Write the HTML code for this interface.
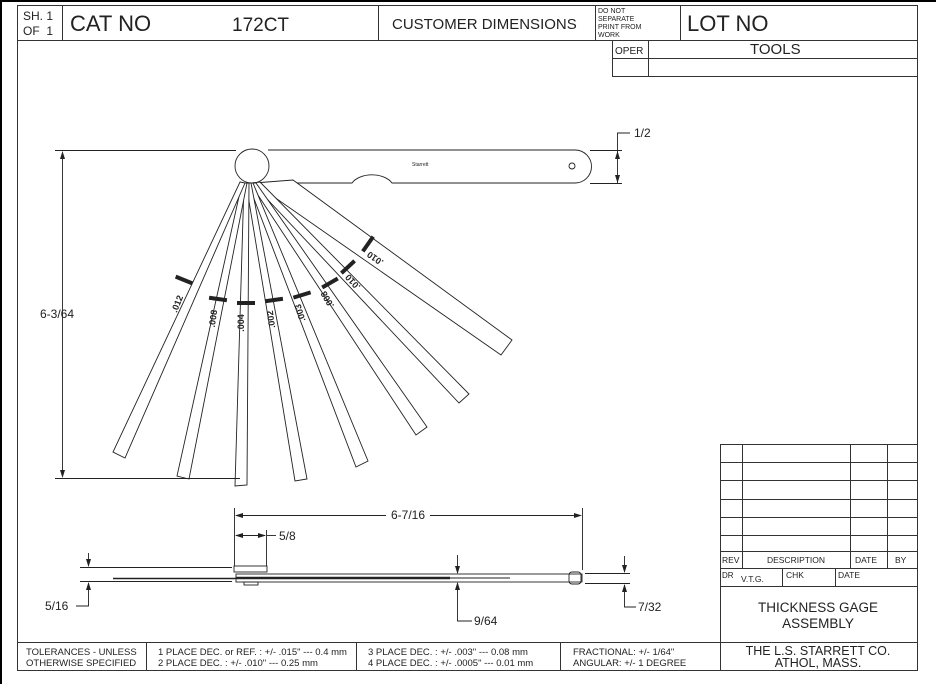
<!DOCTYPE html>
<html><head><meta charset="utf-8"><style>
html,body{margin:0;padding:0;background:#fff;}
svg{display:block;font-family:"Liberation Sans",sans-serif;}
</style></head><body>
<svg width="936" height="684" viewBox="0 0 936 684" xmlns="http://www.w3.org/2000/svg">
<rect x="0" y="0" width="936" height="684" fill="#fff"/>
<line x1="1" y1="0" x2="1" y2="684" stroke="#000" stroke-width="2"/>
<line x1="0" y1="1" x2="936" y2="1" stroke="#000" stroke-width="2"/>
<g stroke="#333" stroke-width="1" fill="none">
<rect x="17.5" y="5.5" width="900" height="665"/>
<line x1="17" y1="40.5" x2="918" y2="40.5"/>
<line x1="62.5" y1="5" x2="62.5" y2="40"/>
<line x1="378.5" y1="5" x2="378.5" y2="40"/>
<line x1="595.5" y1="5" x2="595.5" y2="40"/>
<line x1="680.5" y1="5" x2="680.5" y2="40"/>
<line x1="612.5" y1="40" x2="612.5" y2="76"/>
<line x1="648.5" y1="40" x2="648.5" y2="76"/>
<line x1="612" y1="58.5" x2="918" y2="58.5"/>
<line x1="612" y1="76.5" x2="918" y2="76.5"/>
<!-- bottom row -->
<line x1="17" y1="642.5" x2="918" y2="642.5"/>
<line x1="146.5" y1="642" x2="146.5" y2="670"/>
<line x1="356.5" y1="642" x2="356.5" y2="670"/>
<line x1="560.5" y1="642" x2="560.5" y2="670"/>
<!-- right block -->
<line x1="720.5" y1="444" x2="720.5" y2="670"/>
<line x1="720" y1="444.5" x2="918" y2="444.5"/>
<line x1="720" y1="462.5" x2="918" y2="462.5"/>
<line x1="720" y1="480.5" x2="918" y2="480.5"/>
<line x1="720" y1="499.5" x2="918" y2="499.5"/>
<line x1="720" y1="517.5" x2="918" y2="517.5"/>
<line x1="720" y1="535.5" x2="918" y2="535.5"/>
<line x1="720" y1="551.5" x2="918" y2="551.5"/>
<line x1="720" y1="568.5" x2="918" y2="568.5"/>
<line x1="720" y1="586.5" x2="918" y2="586.5"/>
<line x1="742.5" y1="444" x2="742.5" y2="568"/>
<line x1="850.5" y1="444" x2="850.5" y2="568"/>
<line x1="887.5" y1="444" x2="887.5" y2="568"/>
<line x1="782.5" y1="568" x2="782.5" y2="586"/>
<line x1="835.5" y1="568" x2="835.5" y2="586"/>
</g>
<g fill="#222">
<text x="23" y="20" font-size="12">SH. 1</text>
<text x="23" y="35" font-size="12">OF&#160; 1</text>
<text x="70" y="31" font-size="22">CAT NO</text>
<text x="232" y="31" font-size="19">172CT</text>
<text x="392" y="29" font-size="15">CUSTOMER DIMENSIONS</text>
<text x="598" y="13" font-size="7">DO NOT</text>
<text x="598" y="21" font-size="7">SEPARATE</text>
<text x="598" y="29" font-size="7">PRINT FROM</text>
<text x="598" y="37" font-size="7">WORK</text>
<text x="687" y="31" font-size="22">LOT NO</text>
<text x="615" y="54" font-size="10">OPER</text>
<text x="750" y="54" font-size="15">TOOLS</text>
<text x="26" y="655" font-size="9.5">TOLERANCES - UNLESS</text>
<text x="26" y="666" font-size="9.5">OTHERWISE SPECIFIED</text>
<text x="158" y="655" font-size="9.5">1 PLACE DEC. or REF. :  +/- .015" --- 0.4 mm</text>
<text x="158" y="666" font-size="9.5">2 PLACE DEC. :  +/- .010" --- 0.25 mm</text>
<text x="368" y="655" font-size="9.5">3 PLACE DEC. :  +/- .003" --- 0.08 mm</text>
<text x="368" y="666" font-size="9.5">4 PLACE DEC. :  +/- .0005" --- 0.01 mm</text>
<text x="573" y="655" font-size="9.5">FRACTIONAL: +/- 1/64"</text>
<text x="573" y="666" font-size="9.5">ANGULAR:  +/- 1 DEGREE</text>
<text x="818" y="655" font-size="12.5" text-anchor="middle">THE L.S. STARRETT CO.</text>
<text x="818" y="667" font-size="12.5" text-anchor="middle">ATHOL, MASS.</text>
<text x="722" y="563" font-size="8.5">REV</text>
<text x="796" y="563" font-size="8.5" text-anchor="middle">DESCRIPTION</text>
<text x="855" y="563" font-size="8.5">DATE</text>
<text x="895" y="563" font-size="8.5">BY</text>
<text x="722" y="578" font-size="8">DR</text>
<text x="741" y="582" font-size="8.5">V.T.G.</text>
<text x="786" y="578" font-size="8.5">CHK</text>
<text x="838" y="578" font-size="8.5">DATE</text>
<text x="818" y="612" font-size="13.5" text-anchor="middle">THICKNESS GAGE</text>
<text x="818" y="628" font-size="13.5" text-anchor="middle">ASSEMBLY</text>
</g>
<!-- fan view -->
<g stroke="#222" stroke-width="0.9" fill="none">
<path d="M268,150 L575,150 A16.5,16.5 0 0 1 575,183 L392,183 A22,14 0 0 0 352,183 L268,183"/>
<circle cx="572" cy="166" r="3"/>
<circle cx="252" cy="166" r="17"/>
<!-- blades: polygons -->
<g fill="#fff">
<polygon points="254,183 293,180 512,340 501,355"/>
<polygon points="252,183 260,182 469,394 459,403"/>
<polygon points="250,183 256,183 427,427 416,435"/>
<polygon points="248,183 253,183 368,461 356,467"/>
<polygon points="246,183 251,183 307,479 295,481"/>
<polygon points="244,183 249,183 247,485 235,486"/>
<polygon points="242,183 247,183 189,479 177,476"/>
<polygon points="240,182 245,183 125,458 113,452"/>
</g>
<!-- dims -->
<line x1="55" y1="150.5" x2="236" y2="150.5"/>
<line x1="55" y1="478.5" x2="240" y2="478.5"/>
<line x1="62.5" y1="153" x2="62.5" y2="476"/>
<line x1="590" y1="150.5" x2="622" y2="150.5"/>
<line x1="590" y1="183.5" x2="622" y2="183.5"/>
<polyline points="617.5,150 617.5,133 630,133"/>
<line x1="617.5" y1="150" x2="617.5" y2="183"/>
</g>
<g fill="#222">
<polygon points="62.5,151 60,159 65,159"/><polygon points="62.5,478 60,470 65,470"/>
<polygon points="617.5,151 615,159 620,159"/><polygon points="617.5,183 615,175 620,175"/>
<text x="634" y="137" font-size="12">1/2</text>
<text x="40" y="318" font-size="12">6-3/64</text>
<text x="412" y="166" font-size="5">Starrett</text>
<g font-size="9" font-weight="bold">
<text transform="translate(180,305) rotate(-68)" text-anchor="middle">.012</text>
<text transform="translate(216,319) rotate(-82)" text-anchor="middle">.008</text>
<text transform="translate(244,323) rotate(-90)" text-anchor="middle">.004</text>
<text transform="translate(274,319) rotate(-98)" text-anchor="middle">.002</text>
<text transform="translate(303,312) rotate(-107)" text-anchor="middle">.003</text>
<text transform="translate(330,298) rotate(-120)" text-anchor="middle">.008</text>
<text transform="translate(355,280) rotate(-133)" text-anchor="middle">.010</text>
<text transform="translate(377,256) rotate(-145)" text-anchor="middle">.010</text>
</g>
<rect x="-9" y="-2" width="18" height="4" transform="translate(184,280) rotate(22)"/>
<rect x="-9" y="-2" width="18" height="4" transform="translate(218,299) rotate(8)"/>
<rect x="-9" y="-2" width="18" height="4" transform="translate(246,303)"/>
<rect x="-9" y="-2" width="18" height="4" transform="translate(274,300) rotate(-8)"/>
<rect x="-9" y="-2" width="18" height="4" transform="translate(302,295) rotate(-17)"/>
<rect x="-9" y="-2" width="18" height="4" transform="translate(330,283) rotate(-30)"/>
<rect x="-9" y="-2" width="18" height="4" transform="translate(348,267) rotate(-43)"/>
<rect x="-9" y="-2" width="18" height="4" transform="translate(368,244) rotate(-55)"/>
</g>
<!-- side view -->
<g stroke="#222" stroke-width="0.9" fill="none">
<line x1="234.5" y1="508" x2="234.5" y2="566"/>
<line x1="582.5" y1="508" x2="582.5" y2="570"/>
<line x1="266.5" y1="530" x2="266.5" y2="566"/>
<line x1="236" y1="515.5" x2="386" y2="515.5"/>
<line x1="430" y1="515.5" x2="580" y2="515.5"/>
<line x1="236" y1="535.5" x2="265" y2="535.5"/>
<line x1="267" y1="535.5" x2="276" y2="535.5"/>
<rect x="234" y="566" width="33" height="6"/>
<rect x="236" y="574" width="346" height="8"/>
<line x1="113" y1="578.5" x2="236" y2="578.5" stroke-width="1.5"/>
<line x1="236" y1="578" x2="450" y2="578" stroke-width="2.5"/>
<line x1="450" y1="578" x2="510" y2="578"/>
<rect x="244" y="582" width="14" height="3"/>
<rect x="569" y="572" width="12" height="12" rx="3"/>
<line x1="80" y1="567.5" x2="232" y2="567.5"/>
<line x1="80" y1="581.5" x2="232" y2="581.5"/>
<line x1="88.5" y1="553" x2="88.5" y2="566"/>
<polyline points="88.5,583 88.5,606 76,606"/>
<line x1="585" y1="573.5" x2="630" y2="573.5"/>
<line x1="585" y1="583.5" x2="630" y2="583.5"/>
<line x1="624.5" y1="556" x2="624.5" y2="572"/>
<polyline points="624.5,585 624.5,607 636,607"/>
<line x1="457.5" y1="555" x2="457.5" y2="573"/>
<polyline points="457.5,583 457.5,621 472,621"/>
</g>
<g fill="#222">
<polygon points="235,515.5 243,513 243,518"/><polygon points="582,515.5 574,513 574,518"/>
<polygon points="235,535.5 243,533 243,538"/><polygon points="266,535.5 258,533 258,538"/>
<polygon points="88.5,567 86,559 91,559"/><polygon points="88.5,582 86,590 91,590"/>
<polygon points="624.5,573 622,565 627,565"/><polygon points="624.5,584 622,592 627,592"/>
<polygon points="457.5,574 455,566 460,566"/><polygon points="457.5,582 455,590 460,590"/>
<text x="408" y="519" font-size="12" text-anchor="middle">6-7/16</text>
<text x="279" y="540" font-size="12">5/8</text>
<text x="45" y="610" font-size="12">5/16</text>
<text x="638" y="611" font-size="12">7/32</text>
<text x="474" y="625" font-size="12">9/64</text>
</g>
</svg>
</body></html>
